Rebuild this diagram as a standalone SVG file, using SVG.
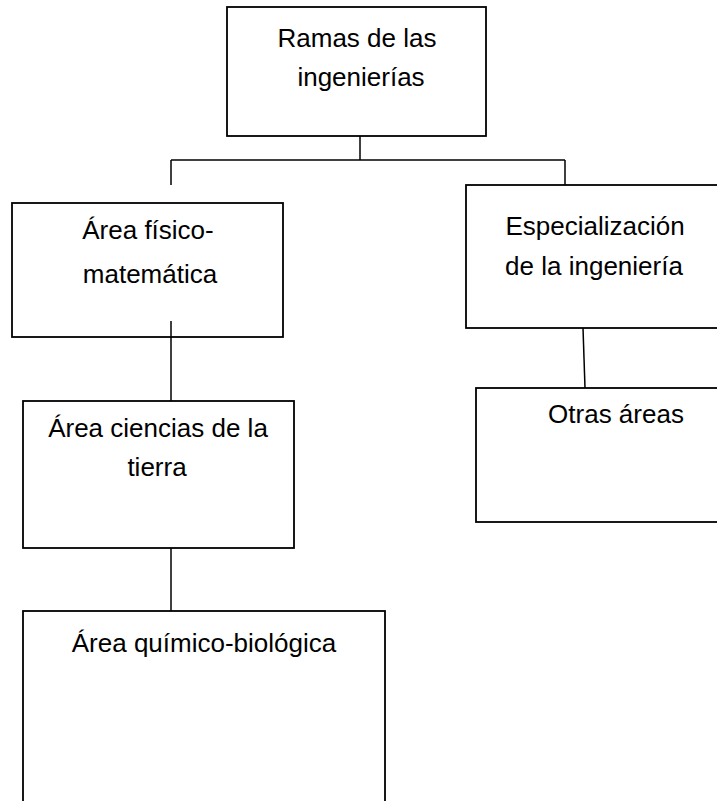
<svg xmlns="http://www.w3.org/2000/svg" width="717" height="801" viewBox="0 0 717 801">
<style>
.box{fill:#fff;stroke:#000;stroke-width:1.8}
.lbl{font-family:"Liberation Sans",Arial,sans-serif;font-size:26px;fill:#000;text-anchor:middle}
.conn path{fill:none;stroke:#000;stroke-width:1.5}
</style>
<rect width="717" height="801" fill="#fff"/>
<g id="n-ramas">
<rect class="box" x="227" y="7" width="259" height="129"/>
<text class="lbl" x="357" y="47">Ramas de las</text>
<text class="lbl" x="361" y="86">ingenierías</text>
</g>
<g id="n-fisico">
<rect class="box" x="12" y="203" width="271" height="134"/>
<text class="lbl" x="148" y="239">Área físico-</text>
<text class="lbl" x="150" y="283">matemática</text>
</g>
<g id="n-ciencias">
<rect class="box" x="23" y="401" width="271" height="147"/>
<text class="lbl" x="158" y="437">Área ciencias de la</text>
<text class="lbl" x="157" y="476">tierra</text>
</g>
<g id="n-quimico">
<rect class="box" x="23" y="611" width="362" height="210"/>
<text class="lbl" x="204" y="652">Área químico-biológica</text>
</g>
<g id="n-especializacion">
<rect class="box" x="466" y="185" width="270" height="143"/>
<text class="lbl" x="595" y="235">Especialización</text>
<text class="lbl" x="594" y="275">de la ingeniería</text>
</g>
<g id="n-otras">
<rect class="box" x="476" y="388" width="260" height="134"/>
<text class="lbl" x="616" y="423">Otras áreas</text>
</g>
<g id="connectors" class="conn">
<path d="M360 136 V160"/>
<path d="M171 160 H565"/>
<path d="M171 160 V185"/>
<path d="M565 160 V185"/>
<path d="M171 321 V401"/>
<path d="M171 548 V611"/>
<path d="M583 328 L585 388"/>
</g>
</svg>
